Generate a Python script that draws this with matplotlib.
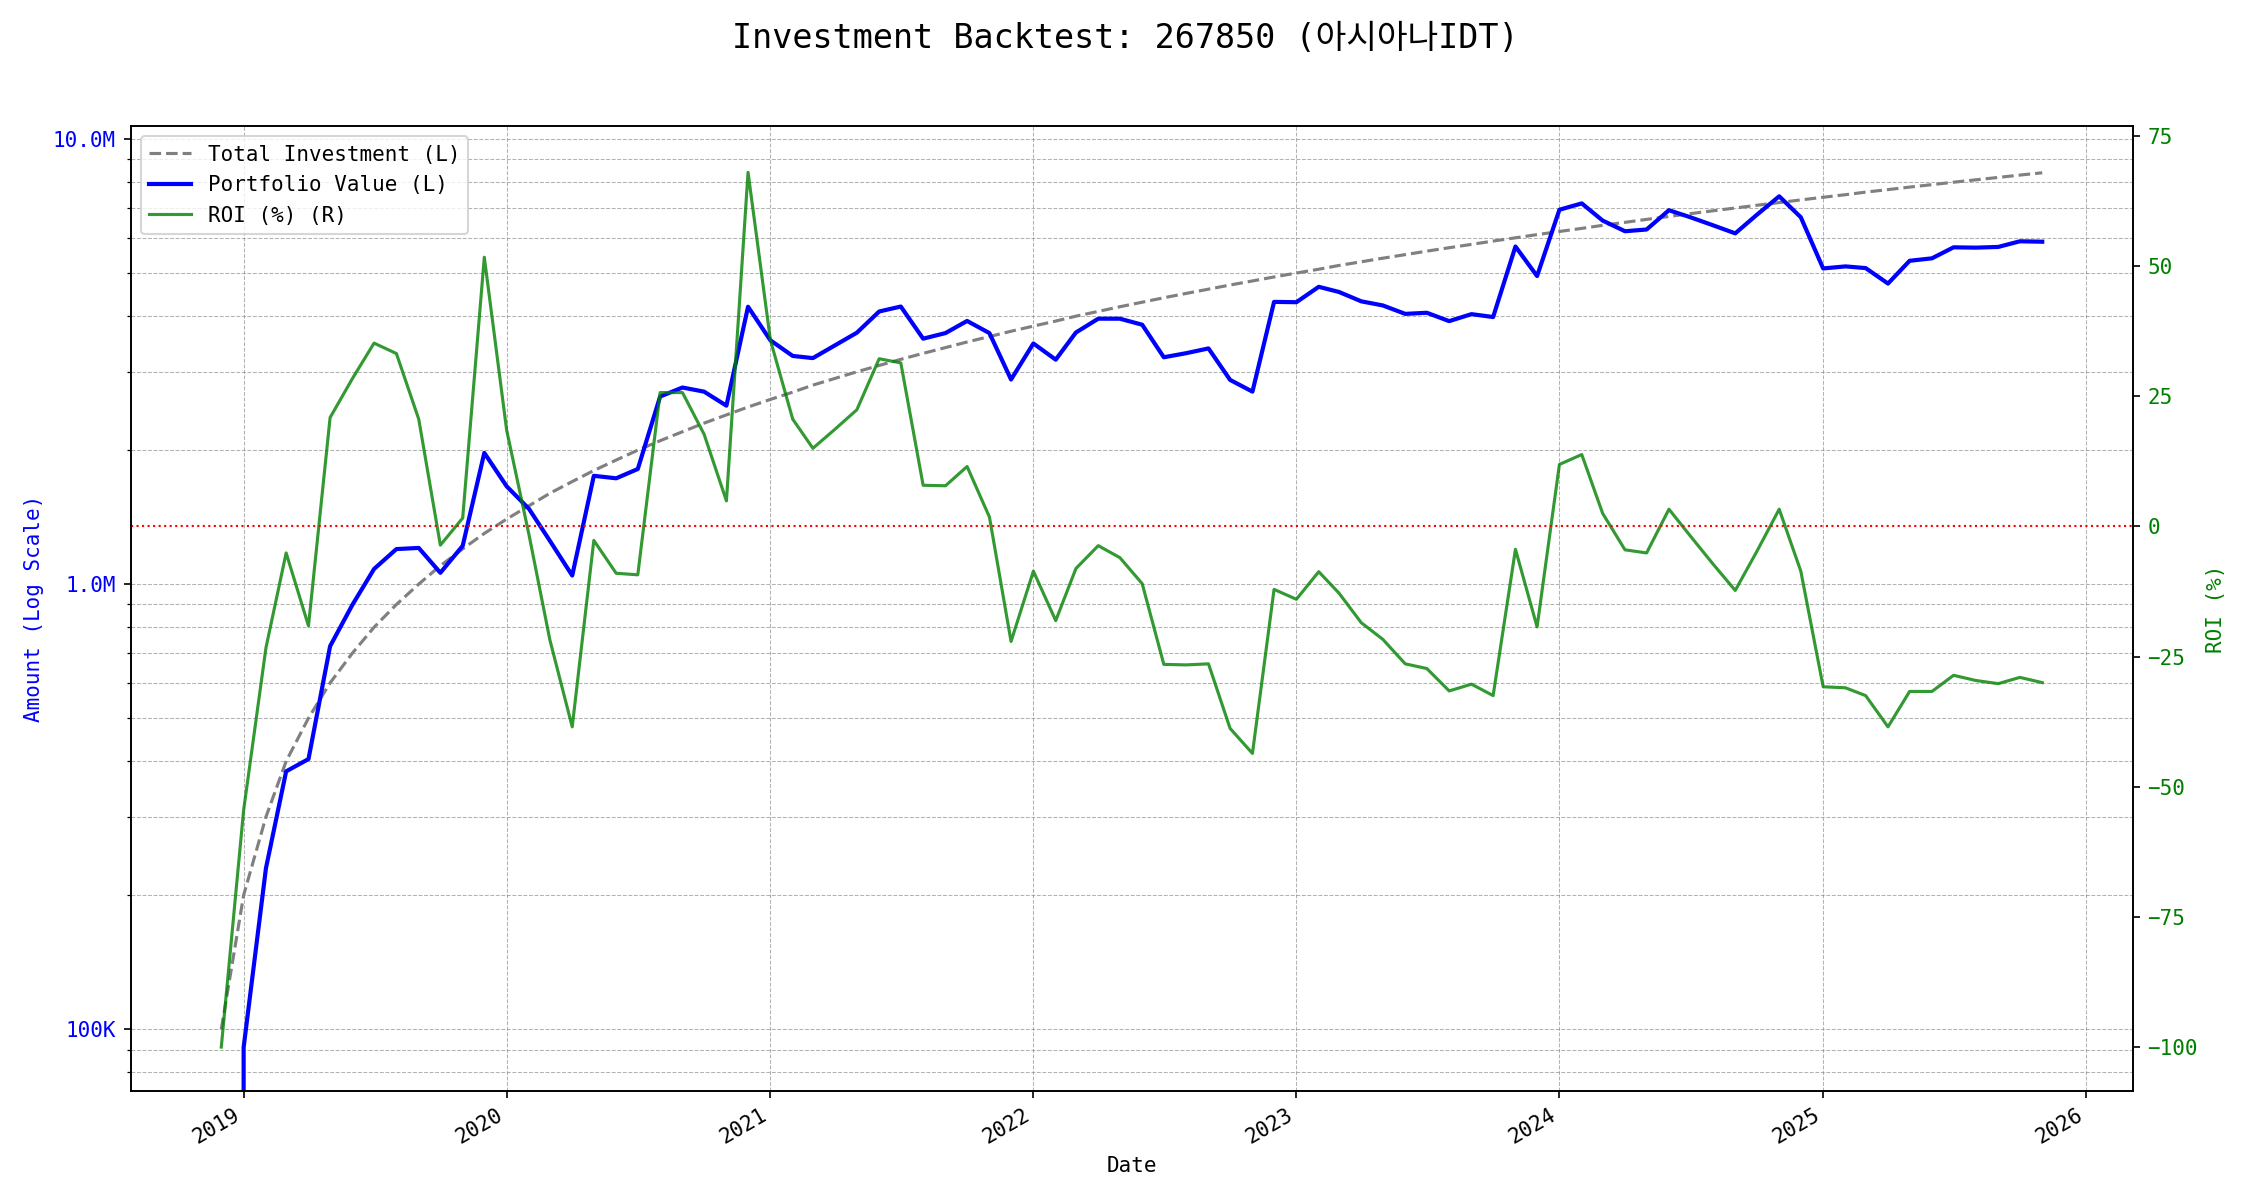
import numpy as np
import pandas as pd
import matplotlib
matplotlib.use("Agg")
import matplotlib.pyplot as plt
import matplotlib.dates as mdates
from matplotlib.ticker import FuncFormatter

plt.rcParams['font.family'] = ['DejaVu Sans Mono', 'Noto Sans CJK KR']

# monthly buys, 100K each, Dec 2018 .. Nov 2025
dates = pd.date_range("2018-12-01", "2025-11-01", freq="MS")

total_investment = [
    100000, 200000, 300000, 400000, 500000, 600000, 700000, 800000, 900000, 1000000,
    1100000, 1200000, 1300000, 1400000, 1500000, 1600000, 1700000, 1800000, 1900000, 2000000,
    2100000, 2200000, 2300000, 2400000, 2500000, 2600000, 2700000, 2800000, 2900000, 3000000,
    3100000, 3200000, 3300000, 3400000, 3500000, 3600000, 3700000, 3800000, 3900000, 4000000,
    4100000, 4200000, 4300000, 4400000, 4500000, 4600000, 4700000, 4800000, 4900000, 5000000,
    5100000, 5200000, 5300000, 5400000, 5500000, 5600000, 5700000, 5800000, 5900000, 6000000,
    6100000, 6200000, 6300000, 6400000, 6500000, 6600000, 6700000, 6800000, 6900000, 7000000,
    7100000, 7200000, 7300000, 7400000, 7500000, 7600000, 7700000, 7800000, 7900000, 8000000,
    8100000, 8200000, 8300000, 8400000,
]

portfolio_value = [
    0, 91000, 230100, 379600, 404500, 725400, 898800, 1081600, 1198800, 1206000,
    1060400, 1219200, 1972100, 1659000, 1476000, 1251200, 1045500, 1751400, 1729000, 1814000,
    2639700, 2765400, 2707100, 2517600, 4200000, 3530800, 3256200, 3220000, 3442300, 3672000,
    4098200, 4204800, 3560700, 3665200, 3902500, 3664800, 2882300, 3473200, 3194100, 3676000,
    3948300, 3948000, 3827000, 3234000, 3303000, 3385600, 2876400, 2707200, 4307100, 4300000,
    4656300, 4534400, 4319500, 4228200, 4048000, 4071200, 3898800, 4042600, 3982500, 5736000,
    4922700, 6937800, 7169400, 6560000, 6207500, 6263400, 6921100, 6670800, 6403200, 6139000,
    6759200, 7437600, 6672200, 5120800, 5175000, 5130000, 4735500, 5327400, 5395700, 5712000,
    5702400, 5723600, 5893000, 5880000,
]

roi = [
    -100.0, -54.5, -23.3, -5.1, -19.1, 20.9, 28.4, 35.2, 33.2, 20.6,
    -3.6, 1.6, 51.7, 18.5, -1.6, -21.8, -38.5, -2.7, -9.0, -9.3,
    25.7, 25.7, 17.7, 4.9, 68.0, 35.8, 20.6, 15.0, 18.7, 22.4,
    32.2, 31.4, 7.9, 7.8, 11.5, 1.8, -22.1, -8.6, -18.1, -8.1,
    -3.7, -6.0, -11.0, -26.5, -26.6, -26.4, -38.8, -43.6, -12.1, -14.0,
    -8.7, -12.8, -18.5, -21.7, -26.4, -27.3, -31.6, -30.3, -32.5, -4.4,
    -19.3, 11.9, 13.8, 2.5, -4.5, -5.1, 3.3, -1.9, -7.2, -12.3,
    -4.8, 3.3, -8.6, -30.8, -31.0, -32.5, -38.5, -31.7, -31.7, -28.6,
    -29.6, -30.2, -29.0, -30.0,
]


def fmt_amount(x, pos):
    if x >= 1e6:
        return f"{x/1e6:.1f}M"
    return f"{x/1e3:.0f}K"


fig, ax1 = plt.subplots(figsize=(15, 8), dpi=150)

l1, = ax1.plot(dates, total_investment, color="gray", linestyle="--", linewidth=1.5,
               label="Total Investment (L)")
l2, = ax1.plot(dates, portfolio_value, color="blue", linewidth=2,
               label="Portfolio Value (L)")
ax1.set_yscale("log")
ax1.set_ylim(72700, 10.7e6)
ax1.yaxis.set_major_formatter(FuncFormatter(fmt_amount))
ax1.set_ylabel("Amount (Log Scale)", color="blue")
ax1.tick_params(axis="y", labelcolor="blue")
ax1.set_xlabel("Date")
ax1.grid(True, which="both", linestyle="--", linewidth=0.5, color="gray", alpha=0.6)

ax2 = ax1.twinx()
l3, = ax2.plot(dates, roi, color="green", linewidth=1.5, alpha=0.8, label="ROI (%) (R)")
ax2.axhline(0, color="red", linestyle=":", linewidth=1)
ax2.set_ylim(-108.4, 76.9)
ax2.set_ylabel("ROI (%)", color="green")
ax2.tick_params(axis="y", labelcolor="green")

ax1.xaxis.set_major_locator(mdates.YearLocator())
ax1.xaxis.set_major_formatter(mdates.DateFormatter("%Y"))
ax1.set_xlim(pd.Timestamp("2018-07-28"), pd.Timestamp("2026-03-07"))
fig.autofmt_xdate()

ax2.legend(handles=[l1, l2, l3], loc="upper left")

fig.suptitle("Investment Backtest: 267850 (아시아나IDT)", fontsize=16, y=0.982)

# autofmt_xdate moves the bottom, so set the box afterwards
fig.subplots_adjust(left=0.058, right=0.948, top=0.895, bottom=0.091)

fig.savefig("out.png", dpi=150)
